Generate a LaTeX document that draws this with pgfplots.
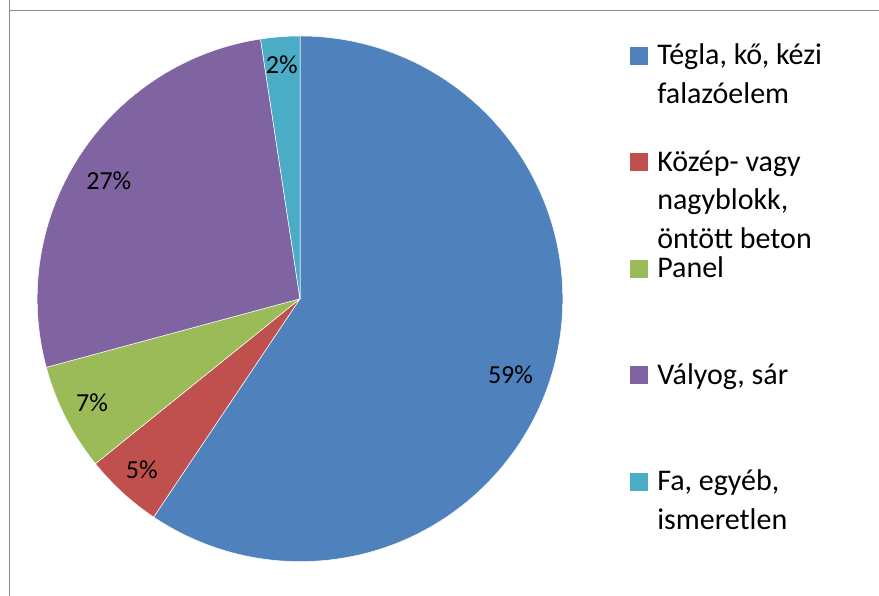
\documentclass[border=0pt]{standalone}
\usepackage{pgfplots}
\usepackage{pgfplotstable}
\pgfplotsset{compat=1.18}
\usepackage{fontspec}
\setmainfont{Carlito}
\definecolor{cblue}{HTML}{4F81BD}
\definecolor{cred}{HTML}{C0504D}
\definecolor{cgreen}{HTML}{9BBB59}
\definecolor{cpurple}{HTML}{8064A2}
\definecolor{ccyan}{HTML}{4BACC6}
\definecolor{frame}{HTML}{8C8C8C}
\newcommand\lbl{\fontsize{26}{31}\selectfont}
\newcommand\legfont{\fontsize{30}{38.5}\selectfont}
\newcommand\two[2]{\vtop{\hbox{#1}\hbox{#2}}}
\newcommand\three[3]{\vtop{\hbox{#1}\hbox{#2}\hbox{#3}}}
% share (%), rounded label, label position (x, y), colour
\pgfplotstableread{
share pct lx ly color
59.4 59 510.5 212.0 cblue
4.8 5 141.7 117.7 cred
6.6 7 92.0 184.3 cgreen
26.8 27 108.8 406.0 cpurple
2.4 2 281.7 522.7 ccyan
}\piedata
\begin{document}
\begin{tikzpicture}
\draw[frame, line width=1pt] (9.5pt,900pt) -- (9.5pt,585.5pt) -- (1000pt,585.5pt);
\draw[frame, line width=1pt] (9.5pt,585.5pt) -- (9.5pt,-50pt);
\begin{axis}[
  hide axis, scale only axis, width=879pt, height=596pt,
  xmin=0, xmax=879, ymin=0, ymax=596, enlargelimits=false, clip=false,
  legend image code/.code={\fill[#1] (0pt,0pt) rectangle (18.3pt,18.3pt);},
  legend style={at={(0.71672,0.92450)}, anchor=north west, draw=none, fill=none,
    inner sep=0pt, outer sep=0pt, row sep=86.5pt, column sep=9pt, font=\legfont,
    nodes={inner sep=0pt, outer sep=0pt, text height=20pt, text depth=0pt, anchor=base west}},
]
\gdef\cum{90}
\pgfplotsforeachungrouped \i in {0,...,4}{%
  \pgfplotstablegetelem{\i}{share}\of\piedata \let\vv\pgfplotsretval
  \pgfplotstablegetelem{\i}{color}\of\piedata \let\cc\pgfplotsretval
  \pgfplotstablegetelem{\i}{pct}\of\piedata \let\pp\pgfplotsretval
  \pgfplotstablegetelem{\i}{lx}\of\piedata \let\lx\pgfplotsretval
  \pgfplotstablegetelem{\i}{ly}\of\piedata \let\ly\pgfplotsretval
  \pgfmathsetmacro\aa{\cum}
  \pgfmathsetmacro\bb{\cum-3.6*\vv}
  \pgfmathsetmacro\sx{300+262.8*cos(\aa)}
  \pgfmathsetmacro\sy{297.2+262.8*sin(\aa)}
  \edef\temp{\noexpand\fill[\cc, draw=white, line width=0.5pt] (axis cs:300,297.2) -- (axis cs:\sx,\sy) arc[start angle=\aa, end angle=\bb, radius=262.8pt] -- cycle;}
  \temp
  \xdef\cum{\bb}
}
\pgfplotsforeachungrouped \i in {0,...,4}{%
  \pgfplotstablegetelem{\i}{pct}\of\piedata \let\pp\pgfplotsretval
  \pgfplotstablegetelem{\i}{lx}\of\piedata \let\lx\pgfplotsretval
  \pgfplotstablegetelem{\i}{ly}\of\piedata \let\ly\pgfplotsretval
  \edef\temp{\noexpand\node[anchor=base, inner sep=0pt, font=\noexpand\lbl] at (axis cs:\lx,\ly) {\pp\noexpand\%};}
  \temp
}
\addlegendimage{fill=cblue, draw=none}
\addlegendentry{\two{Tégla, kő, kézi}{falazóelem}}
\addlegendimage{fill=cred, draw=none}
\addlegendentry{\three{Közép- vagy}{nagyblokk,}{öntött beton}}
\addlegendimage{fill=cgreen, draw=none}
\addlegendentry{Panel}
\addlegendimage{fill=cpurple, draw=none}
\addlegendentry{Vályog, sár}
\addlegendimage{fill=ccyan, draw=none}
\addlegendentry{\two{Fa, egyéb,}{ismeretlen}}
\end{axis}
\pgfresetboundingbox
\useasboundingbox (0pt,0pt) rectangle (879pt,596pt);
\end{tikzpicture}
\end{document}
